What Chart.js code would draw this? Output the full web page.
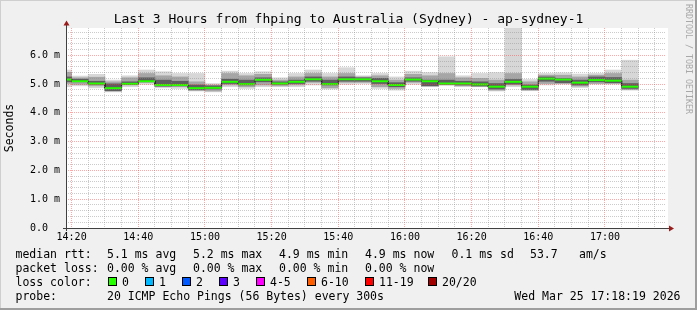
<!DOCTYPE html>
<html>
<head>
<meta charset="utf-8">
<title>Last 3 Hours from fhping to Australia (Sydney) - ap-sydney-1</title>
<script src="https://cdn.jsdelivr.net/npm/chart.js@4.4.1/dist/chart.umd.min.js"></script>
<style>
    html, body { margin: 0; padding: 0; background: #f0f0f0; }
    canvas { display: block; }
</style>
</head>
<body>
<canvas id="chart" width="697" height="310"></canvas>
<script>
// graph window (local time)
let rangeStart = '14:18:19';
let rangeEnd = '17:18:19';
let step = 300; // one rrd step = 5 min
let labelEvery = 1200; // a time label every 20 min

// end time of each 5 min step
let blockEnd = ['14:20','14:25','14:30','14:35','14:40','14:45','14:50','14:55',
    '15:00','15:05','15:10','15:15','15:20','15:25','15:30','15:35','15:40','15:45','15:50','15:55',
    '16:00','16:05','16:10','16:15','16:20','16:25','16:30','16:35','16:40','16:45','16:50','16:55',
    '17:00','17:05','17:10'];

// median rtt in ms
let median = [5.16, 5.10, 5.02, 4.86, 5.01, 5.10, 4.97, 4.97, 4.86, 4.87, 5.08, 5.00, 5.15, 5.02, 5.08, 5.17, 5.00, 5.17,
    5.17, 5.10, 4.97, 5.16, 5.10, 5.02, 5.02, 4.99, 4.91, 5.08, 4.91, 5.19, 5.16, 5.05, 5.14, 5.12, 4.91];

// smoke: outer range (min / max ping), ms
let smokeMax = [5.49, 5.28, 5.34, 5.14, 5.29, 5.49, 5.43, 5.37, 5.37, 5.02, 5.45, 5.37, 5.43, 5.22, 5.37, 5.49, 5.37, 5.57,
    5.29, 5.37, 5.25, 5.45, 5.40, 5.95, 5.29, 5.37, 5.40, 6.95, 5.16, 5.37, 5.39, 5.35, 5.37, 5.49, 5.83];
let smokeMin = [4.91, 4.94, 4.87, 4.73, 4.91, 4.99, 4.87, 4.85, 4.76, 4.73, 4.91, 4.85, 4.91, 4.91, 4.91, 4.97, 4.83, 4.99,
    5.02, 4.85, 4.79, 4.99, 4.91, 4.97, 4.91, 4.91, 4.76, 4.91, 4.77, 4.97, 5.00, 4.88, 5.00, 5.00, 4.79];
// middle range
let smokeMidHi = [5.41, 5.22, 5.24, 5.08, 5.22, 5.37, 5.29, 5.25, 5.08, 4.97, 5.37, 5.29, 5.34, 5.14, 5.25, 5.37, 5.25, 5.37,
    5.25, 5.29, 5.14, 5.34, 5.29, 5.37, 5.22, 5.20, 5.14, 5.37, 5.08, 5.31, 5.31, 5.25, 5.31, 5.37, 5.14];
let smokeMidLo = [5.02, 4.99, 4.94, 4.76, 4.97, 5.06, 4.91, 4.91, 4.79, 4.76, 4.97, 4.91, 4.97, 4.94, 4.97, 5.06, 4.87, 5.06,
    5.06, 4.91, 4.85, 5.06, 4.94, 4.97, 4.94, 4.91, 4.79, 4.97, 4.79, 5.02, 5.02, 4.93, 5.02, 5.02, 4.81];
// inner range
let smokeInHi = [5.25, 5.17, 5.10, 5.01, 5.08, 5.22, 5.14, 5.10, 4.97, 4.94, 5.17, 5.14, 5.22, 5.08, 5.14, 5.25, 5.14, 5.25,
    5.22, 5.20, 5.05, 5.22, 5.14, 5.14, 5.10, 5.08, 5.02, 5.16, 4.97, 5.25, 5.20, 5.14, 5.25, 5.23, 5.02];
let smokeInLo = [5.08, 5.08, 4.99, 4.77, 4.99, 5.08, 4.93, 4.94, 4.80, 4.83, 5.02, 4.97, 5.08, 4.99, 5.02, 5.10, 4.97, 5.10,
    5.10, 5.02, 4.91, 5.10, 4.94, 4.99, 4.97, 4.94, 4.83, 5.00, 4.81, 5.10, 5.05, 4.97, 5.08, 5.05, 4.85];

// y axis
let yMax = 6.95;
let yStep = 0.2;

// legend texts
let legendRtt = ['5.1 ms avg', '5.2 ms max', '4.9 ms min', '4.9 ms now', '0.1 ms sd', '53.7', 'am/s'];
let legendLoss = ['0.00 % avg', '0.00 % max', '0.00 % min', '0.00 % now'];
let lossLabels = ['0', '1', '2', '3', '4-5', '6-10', '11-19', '20/20'];
let lossColors = ['#26ff00', '#00b8ff', '#0059ff', '#5e00ff', '#ff00fe', '#ff5e00', '#ff0000', '#a10000'];
let probeText = '20 ICMP Echo Pings (56 Bytes) every 300s';
let stampText = 'Wed Mar 25 17:18:19 2026';
let titleText = 'Last 3 Hours from fhping to Australia (Sydney) - ap-sydney-1';

let toSec = function (s) {
    let p = s.split(':').map(Number);
    return p[0] * 3600 + p[1] * 60 + (p[2] || 0);
}
let pad = n => String(n).padStart(2, '0');
let ends = blockEnd.map(toSec);

let band = function (lo, hi, color, order) {
    return {
        type: 'bar',
        data: ends.map((t, i) => ({ x: t - step / 2, y: [lo[i], hi[i]] })),
        backgroundColor: color,
        borderWidth: 0,
        barPercentage: 1,
        categoryPercentage: 1,
        grouped: false,
        order: order
    };
}

let medianPoints = ends.flatMap((t, i) => [{ x: t - step, y: median[i] }, { x: t, y: median[i] }]);

const MONO = '"DejaVu Sans Mono", "Liberation Mono", monospace';
Chart.defaults.font.family = MONO;
Chart.defaults.color = '#000';

let isMajorY = v => Math.abs(v - Math.round(v)) < 1e-6;
let minorGrid = 'rgba(140,140,140,0.45)';
let majorGrid = 'rgba(255,60,60,0.45)';

let decor = {
    id: 'decor',
    beforeDraw(chart) {
        let c = chart.ctx, a = chart.chartArea, w = chart.width, h = chart.height;
        c.save();
        c.fillStyle = '#f0f0f0';
        c.fillRect(0, 0, w, h);
        c.fillStyle = '#cfcfcf';
        c.fillRect(0, 0, w, 1);
        c.fillRect(0, 0, 1, h);
        c.fillStyle = '#9e9e9e';
        c.fillRect(0, h - 2, w, 2);
        c.fillRect(w - 2, 0, 2, h);
        c.fillStyle = '#ffffff';
        c.fillRect(a.left, a.top, a.right - a.left + 2, a.bottom - a.top);
        c.restore();
    },
    afterDraw(chart) {
        let c = chart.ctx, a = chart.chartArea;
        c.save();

        // axes with arrows
        c.strokeStyle = '#404040';
        c.lineWidth = 1;
        c.beginPath();
        c.moveTo(a.left + 0.5, a.bottom + 3);
        c.lineTo(a.left + 0.5, a.top - 3);
        c.moveTo(a.left - 3, a.bottom + 0.5);
        c.lineTo(a.right + 3, a.bottom + 0.5);
        c.stroke();
        c.fillStyle = '#9b1c1c';
        c.beginPath();
        c.moveTo(a.left - 2.5, a.top - 2.5);
        c.lineTo(a.left + 3.5, a.top - 2.5);
        c.lineTo(a.left + 0.5, a.top - 7.5);
        c.closePath();
        c.fill();
        c.beginPath();
        c.moveTo(a.right + 3, a.bottom - 2.5);
        c.lineTo(a.right + 3, a.bottom + 3.5);
        c.lineTo(a.right + 8, a.bottom + 0.5);
        c.closePath();
        c.fill();

        // title
        c.fillStyle = '#000';
        c.font = '13px ' + MONO;
        c.textAlign = 'center';
        c.textBaseline = 'alphabetic';
        c.fillText(titleText, chart.width / 2, 23);

        // watermark
        c.save();
        c.translate(688, 4);
        c.rotate(Math.PI / 2);
        c.font = '8.3px ' + MONO;
        c.fillStyle = '#a8a8a8';
        c.textAlign = 'left';
        c.textBaseline = 'middle';
        c.fillText('RRDTOOL / TOBI OETIKER', 0, 0);
        c.restore();

        // legend
        c.font = '11.5px ' + MONO;
        c.textAlign = 'left';
        c.fillStyle = '#000';
        let colX = [107, 193, 279, 365, 451.5, 530, 579];
        c.fillText('median rtt:', 15.5, 258);
        legendRtt.forEach((t, i) => c.fillText(t, colX[i], 258));
        c.fillText('packet loss:', 15.5, 272);
        legendLoss.forEach((t, i) => c.fillText(t, colX[i], 272));
        c.fillText('loss color:', 15.5, 286);
        let boxX = [108, 145, 182, 219, 256, 307, 365, 428];
        lossLabels.forEach((t, i) => {
            c.fillStyle = lossColors[i];
            c.fillRect(boxX[i] + 0.5, 277.5, 8, 8);
            c.strokeStyle = '#000';
            c.strokeRect(boxX[i] + 0.5, 277.5, 8, 8);
            c.fillStyle = '#000';
            c.fillText(t, boxX[i] + 14, 286);
        });
        c.fillText('probe:', 15.5, 300);
        c.fillText(probeText, 107, 300);
        c.textAlign = 'right';
        c.fillText(stampText, 680.5, 300);
        c.restore();
    }
};

const ctx = document.getElementById('chart');

new Chart(ctx, {
    type: 'bar',
    data: {
        datasets: [
            {
                type: 'line',
                data: medianPoints,
                borderColor: lossColors[0],
                borderWidth: 2,
                pointRadius: 0,
                tension: 0,
                order: 0,
                segment: {
                    borderColor: s => s.p0.parsed.x === s.p1.parsed.x ? 'rgba(0,0,0,0)' : lossColors[0]
                }
            },
            {
                type: 'line',
                data: medianPoints,
                borderColor: '#202020',
                borderWidth: 1,
                pointRadius: 0,
                tension: 0,
                order: 1
            },
            band(smokeInLo, smokeInHi, '#5e5e5e', 2),
            band(smokeMidLo, smokeMidHi, '#a6a6a6', 3),
            band(smokeMin, smokeMax, '#d7d7d7', 4)
        ]
    },
    options: {
        responsive: false,
        animation: false,
        events: [],
        layout: { padding: { left: 0, right: 31, top: 28, bottom: 62 } },
        plugins: {
            legend: { display: false },
            tooltip: { enabled: false }
        },
        scales: {
            x: {
                type: 'linear',
                min: toSec(rangeStart),
                max: toSec(rangeEnd),
                offset: false,
                afterFit: s => { s.height = 20; },
                // one tick on every 5 min boundary
                afterBuildTicks: s => {
                    let ticks = [];
                    for (let t = Math.ceil(s.min / step) * step; t <= s.max; t += step) {
                        ticks.push({ value: t });
                    }
                    s.ticks = ticks;
                },
                grid: {
                    offset: false,
                    drawTicks: false,
                    z: 1,
                    color: c => c.tick && c.tick.value % labelEvery === 0 ? majorGrid : minorGrid
                },
                border: { display: false, dash: [1, 1] },
                ticks: {
                    autoSkip: false,
                    maxRotation: 0,
                    padding: 3,
                    font: { size: 10 },
                    color: '#000',
                    callback: v => v % labelEvery === 0 ? pad(Math.floor(v / 3600)) + ':' + pad(Math.floor(v % 3600 / 60)) : ''
                }
            },
            y: {
                min: 0,
                max: yMax,
                afterFit: s => { s.width = 66; },
                grid: {
                    drawTicks: false,
                    z: 1,
                    color: c => c.tick && isMajorY(c.tick.value) ? majorGrid : minorGrid
                },
                border: { display: false, dash: [1, 1] },
                title: {
                    display: true,
                    text: 'Seconds',
                    font: { size: 11.5 },
                    color: '#000',
                    padding: { top: 3, bottom: 0 }
                },
                ticks: {
                    stepSize: yStep,
                    includeBounds: false,
                    autoSkip: false,
                    maxTicksLimit: 1000,
                    padding: 6,
                    font: { size: 10 },
                    color: '#000',
                    callback: v => {
                        if (!isMajorY(v)) return '';
                        let r = Math.round(v);
                        return r === 0 ? '0.0  ' : r.toFixed(1) + ' m';
                    }
                }
            }
        }
    },
    plugins: [decor]
});
</script>
</body>
</html>
